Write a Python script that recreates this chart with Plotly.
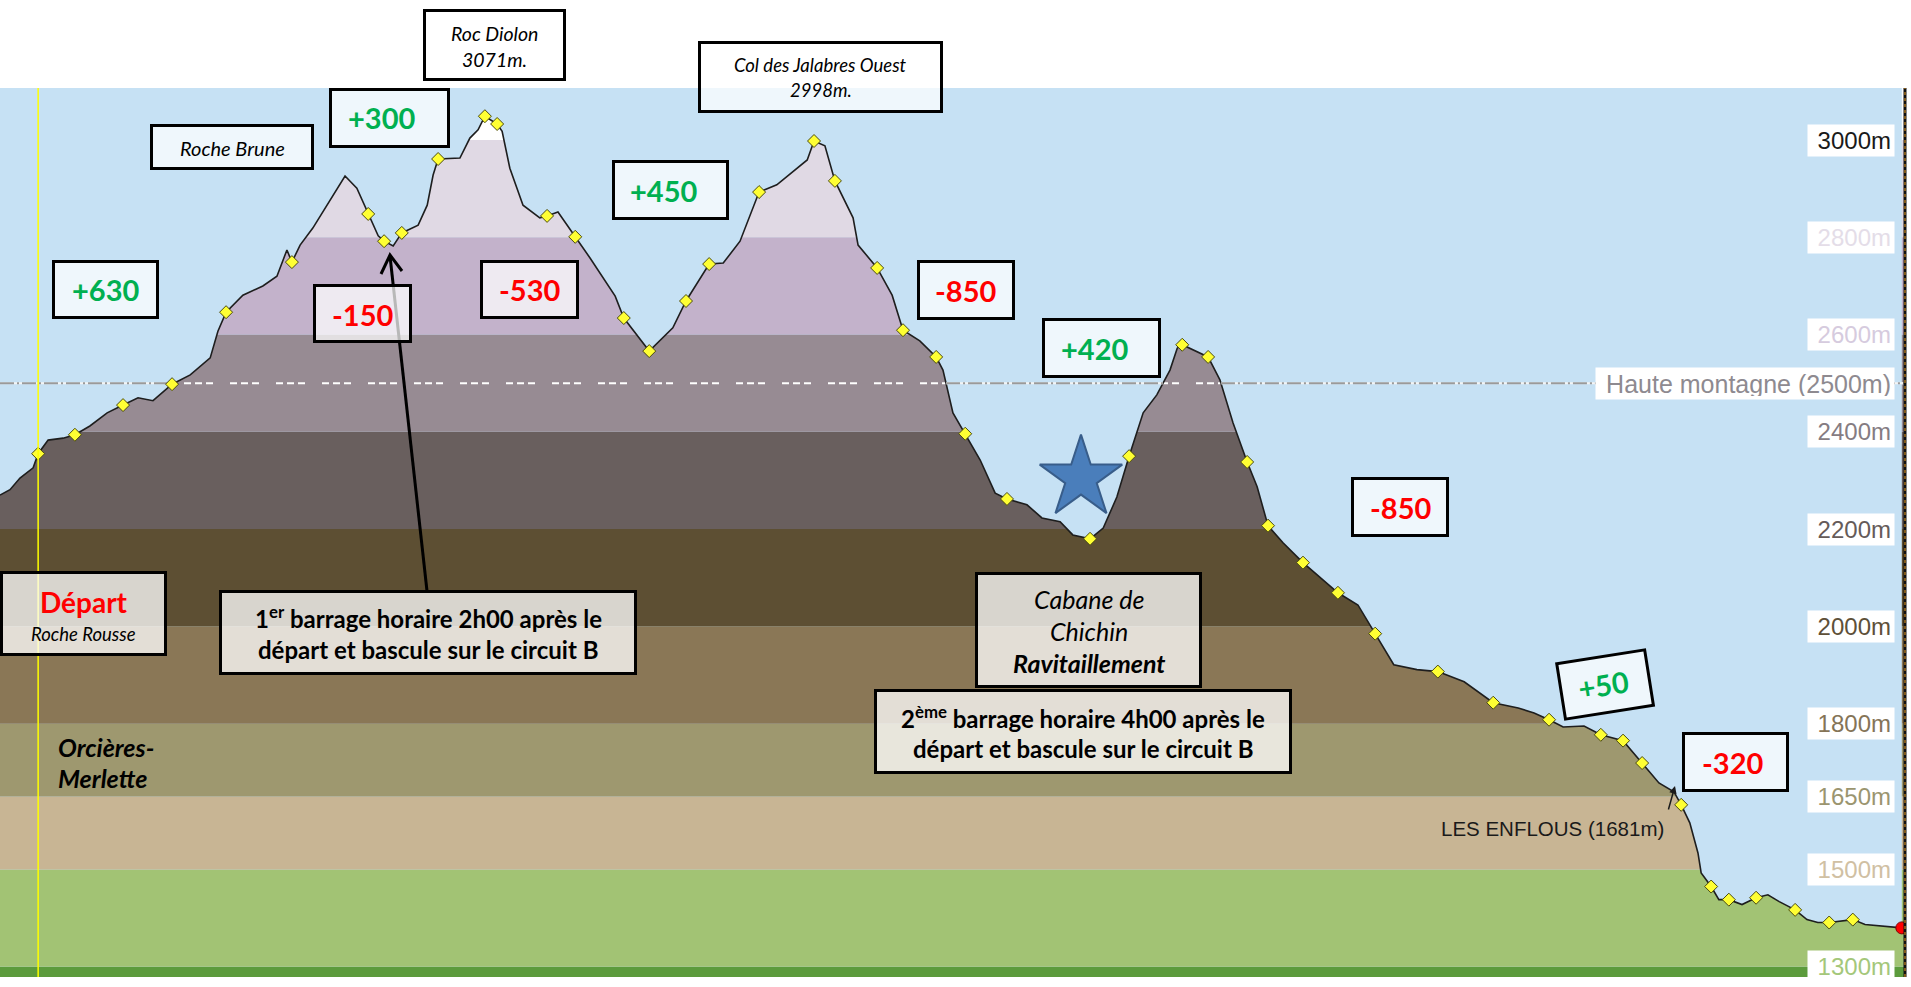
import plotly.graph_objects as go

# ---------------- data ----------------
dist_km = [0.00, 0.22, 0.44, 0.73, 0.84, 1.06, 1.39, 1.65, 1.98, 2.36, 2.71, 3.04, 3.37, 3.79,
           4.19, 4.63, 4.80, 4.98, 5.35, 5.79, 6.10, 6.32, 6.43, 6.61, 6.89, 7.27, 7.60, 7.86,
           8.11, 8.33, 8.46, 8.66, 8.85, 9.21, 9.41, 9.54, 9.65, 10.13, 10.35, 10.53, 10.68,
           10.95, 11.06, 11.23, 11.52, 11.89, 12.05, 12.29, 12.67, 13.00, 13.55, 13.74, 14.30,
           14.82, 15.11, 15.62, 15.93, 16.30, 16.72, 17.11, 17.78, 17.93, 18.17, 18.39, 18.79,
           18.90, 19.32, 19.65, 19.89, 20.26, 20.62, 20.77, 20.99, 21.26, 21.59, 21.92, 22.18,
           22.62, 22.95, 23.35, 23.63, 24.01, 24.30, 24.60, 24.87, 25.18, 25.48, 25.77, 25.93,
           26.04, 26.28, 26.61, 26.87, 27.16, 27.47, 27.69, 27.93, 28.26, 28.70, 29.07, 29.47,
           29.91, 30.29, 30.70, 31.21, 31.67, 32.25, 32.89, 33.44, 33.79, 34.12, 34.43, 34.89,
           35.26, 35.75, 36.17, 36.54, 36.87, 37.03, 37.22, 37.40, 37.47, 37.69, 37.86, 38.08,
           38.37, 38.68, 38.94, 39.19, 39.54, 39.80, 40.04, 40.29, 40.81, 41.08, 41.89]
elev_m = [2270, 2281, 2305, 2326, 2355, 2383, 2387, 2394, 2412, 2439, 2455, 2470, 2464, 2498,
          2517, 2552, 2607, 2646, 2681, 2700, 2720, 2774, 2749, 2784, 2819, 2875, 2926, 2901,
          2848, 2803, 2792, 2782, 2809, 2825, 2866, 2928, 2961, 2963, 3004, 3021, 3049,
          3033, 3018, 2942, 2866, 2840, 2844, 2852, 2801, 2757, 2679, 2634, 2566,
          2614, 2669, 2745, 2747, 2792, 2893, 2908, 2959, 2998, 2988, 2916, 2840,
          2784, 2737, 2681, 2609, 2587, 2554, 2527, 2439, 2396, 2342, 2274, 2262,
          2250, 2223, 2215, 2188, 2180, 2202, 2266, 2350, 2439, 2476, 2527, 2572,
          2579, 2568, 2554, 2507, 2418, 2338, 2287, 2207, 2172, 2131, 2102, 2069,
          2044, 1985, 1921, 1911, 1907, 1886, 1843, 1832, 1822, 1808, 1793, 1795,
          1777, 1765, 1719, 1678, 1660, 1633, 1596, 1534, 1493, 1465, 1438, 1438,
          1428, 1442, 1448, 1434, 1417, 1397, 1391, 1391, 1397, 1387, 1380]

wp_km = [0.84, 1.65, 2.71, 3.79, 4.98, 6.43, 8.11, 8.46, 8.85, 9.65, 10.68, 10.95, 12.05, 12.67,
         13.74, 14.30, 15.11, 15.62, 16.72, 17.93, 18.39, 19.32, 19.89, 20.62, 21.26, 22.18,
         24.01, 24.87, 26.04, 26.61, 27.47, 27.93, 28.70, 29.47, 30.29, 31.67, 32.89, 34.12,
         35.26, 35.75, 36.17, 37.03, 37.69, 38.08, 38.68, 39.54, 40.29, 40.81]
wp_m = [2355, 2394, 2455, 2498, 2646, 2749, 2848, 2792, 2809, 2961, 3049, 3033, 2844, 2801,
        2634, 2566, 2669, 2745, 2893, 2998, 2916, 2737, 2609, 2554, 2396, 2262,
        2180, 2350, 2579, 2554, 2338, 2207, 2131, 2069, 1985, 1907, 1843, 1808,
        1777, 1765, 1719, 1633, 1465, 1438, 1442, 1417, 1391, 1397]

end_km = [41.89]
end_m = [1380]
star_km = [23.81]
star_m = [2305]
start_km = 0.84

band_edges = [1279, 1300, 1500, 1650, 1800, 2000, 2200, 2400, 2600, 2800, 3000, 3107]
band_colors = ["#5c9b3c", "#a2c374", "#c8b594", "#9e986f", "#8a7756", "#5d4f33",
               "#695f5e", "#978b93", "#c3b2cb", "#e0d9e4", "#ffffff"]

tick_vals = [3000, 2800, 2600, 2400, 2200, 2000, 1800, 1650, 1500, 1300]
tick_text = ["3000m", "2800m", "2600m", "2400m", "2200m", "2000m", "1800m", "1650m", "1500m", "1300m"]
tick_colors = ["#1a1a1a", "#e4dde8", "#d6cbde", "#857c82", "#655b59", "#5e5038",
               "#857457", "#9b956f", "#d0c0a3", "#a4c77a"]

haute_level = 2500
haute_label = "Haute montagne (2500m)"

X_MAX = 41.96
Y_MIN, Y_MAX = band_edges[0], band_edges[-1]

SKY = "#c6e1f4"

# ---------------- layout helpers (pixel -> paper) ----------------
W, H = 1911, 987
PW, PT, PB = 1905, 88, 977
PH = PB - PT


def px(x):
    return x / PW


def py(y):
    return (PB - y) / PH


fig = go.Figure()

# sky fill above the profile
fig.add_trace(go.Scatter(x=dist_km, y=[Y_MAX] * len(dist_km), mode="lines",
                         line=dict(width=0, color=SKY), hoverinfo="skip", showlegend=False))
fig.add_trace(go.Scatter(x=dist_km, y=elev_m, mode="lines", fill="tonexty", fillcolor=SKY,
                         line=dict(color="#1e1e1e", width=1.6), hoverinfo="skip", showlegend=False))

# "Haute montagne" line over the sky (where the profile is below 2500 m)
gx, gy = [], []
start = dist_km[0] if elev_m[0] < haute_level else None
for i in range(len(dist_km) - 1):
    y0, y1 = elev_m[i], elev_m[i + 1]
    if (y0 < haute_level) != (y1 < haute_level):
        xc = dist_km[i] + (haute_level - y0) / (y1 - y0) * (dist_km[i + 1] - dist_km[i])
        if y0 < haute_level:
            gx += [start, xc, None]
            gy += [haute_level, haute_level, None]
        else:
            start = xc
if elev_m[-1] < haute_level:
    gx += [start, X_MAX]
    gy += [haute_level, haute_level]

fig.add_trace(go.Scatter(x=gx, y=gy, mode="lines", line=dict(color="#f4f4f4", width=2),
                         hoverinfo="skip", showlegend=False))
fig.add_trace(go.Scatter(x=gx, y=gy, mode="lines",
                         line=dict(color="#9a9a9a", width=2, dash="14px,3px,2px,3px"),
                         hoverinfo="skip", showlegend=False))

# waypoints
fig.add_trace(go.Scatter(x=wp_km, y=wp_m, mode="markers",
                         marker=dict(symbol="diamond", size=10, color="#ffff33",
                                     line=dict(color="#4a4a10", width=1)),
                         hoverinfo="skip", showlegend=False))
fig.add_trace(go.Scatter(x=end_km, y=end_m, mode="markers",
                         marker=dict(symbol="circle", size=12, color="#ff0000",
                                     line=dict(color="#800000", width=1)),
                         hoverinfo="skip", showlegend=False))
fig.add_trace(go.Scatter(x=star_km, y=star_m, mode="markers",
                         marker=dict(symbol="star", size=62, color="#4a7ebb",
                                     line=dict(color="#385d8a", width=2)),
                         hoverinfo="skip", showlegend=False))

shapes = []
for lo, hi, c in zip(band_edges[:-1], band_edges[1:], band_colors):
    shapes.append(dict(type="rect", xref="paper", yref="y", x0=0, x1=1, y0=lo, y1=hi,
                       fillcolor=c, line=dict(width=0), layer="below"))
# white dashed 2500 line over the ground (sky fill hides it elsewhere)
shapes.append(dict(type="line", xref="paper", yref="y", x0=0, x1=1, y0=haute_level, y1=haute_level,
                   line=dict(color="#ffffff", width=2, dash="7px,4px,7px,4px,7px,17px"), layer="below"))
# start line
shapes.append(dict(type="line", xref="x", yref="paper", x0=start_km, x1=start_km, y0=0, y1=1,
                   line=dict(color="#ffff00", width=1.5), layer="above"))
# right edge
shapes.append(dict(type="line", xref="paper", yref="paper", x0=1, x1=1, y0=0, y1=1,
                   line=dict(color="#111111", width=3), layer="above"))
shapes.append(dict(type="line", xref="paper", yref="paper", x0=1, x1=1, y0=0, y1=1,
                   line=dict(color="#f0a020", width=1, dash="3px,3px"), layer="above"))
# arrow to the first time barrier point
shapes.append(dict(type="line", xref="paper", yref="paper", x0=px(427), y0=py(591), x1=px(390), y1=py(256),
                   line=dict(color="#000000", width=3), layer="above"))
shapes.append(dict(type="path", xref="paper", yref="paper",
                   path=f"M {px(381)},{py(274)} L {px(390)},{py(255)} L {px(402)},{py(271)}",
                   line=dict(color="#000000", width=3), layer="above"))

anns = []


def box(cx, cy, w, h, alpha=0.72, angle=0, bw=3):
    anns.append(dict(xref="paper", yref="paper", x=px(cx), y=py(cy), xanchor="center", yanchor="middle",
                     text=" ", showarrow=False, width=w - 2 * bw, height=h - 2 * bw,
                     bgcolor=f"rgba(255,255,255,{alpha})", bordercolor="#000000",
                     borderwidth=bw, borderpad=0, textangle=angle))


def txt(cx, cy, s, size, color="#000000", family="Lato", xanchor="center", angle=0):
    anns.append(dict(xref="paper", yref="paper", x=px(cx), y=py(cy), xanchor=xanchor, yanchor="middle",
                     text=s, showarrow=False, textangle=angle,
                     font=dict(family=family, size=size, color=color)))


GREEN, RED = "#00b050", "#ff0000"

# place-name boxes
box(494.5, 45, 143, 72, alpha=1.0)
txt(494.5, 33, "<i>Roc Diolon</i>", 19.5)
txt(494.5, 59, "<i>3071m.</i>", 19.5)
box(820.5, 77, 245, 72)
txt(820.5, 65, "<i>Col des Jalabres Ouest</i>", 18.5)
txt(820.5, 90, "<i>2998m.</i>", 18.5)
box(232, 147, 164, 46)
txt(232, 148, "<i>Roche Brune</i>", 20)

# elevation change boxes
deltas = [(105.5, 289.5, 107, 59, 105, "+630", GREEN),
          (389.5, 118, 121, 60, 381, "+300", GREEN),
          (529.5, 289.5, 99, 59, 529, "-530", RED),
          (670.5, 190, 117, 60, 663, "+450", GREEN),
          (966, 290, 98, 60, 966, "-850", RED),
          (1101.5, 348, 119, 60, 1094, "+420", GREEN),
          (1400, 507, 98, 60, 1400, "-850", RED),
          (1735.5, 762, 107, 60, 1732, "-320", RED)]
for cx, cy, w, h, tx, s, c in deltas:
    box(cx, cy, w, h)
    txt(tx, cy, f"<b>{s}</b>", 29, c)
box(362.5, 313.5, 99, 59)
txt(362.5, 314, "<b>-150</b>", 29, RED)
box(1605, 684, 92, 59, angle=-9)
txt(1603, 684, "<b>+50</b>", 29, GREEN, angle=-9)

# information boxes
box(83.5, 613.5, 167, 85, alpha=0.76)
txt(83.5, 602, "<b>Départ</b>", 28, RED)
txt(83.5, 634, "<i>Roche Rousse</i>", 18.5)
box(428, 632.5, 418, 85, alpha=0.76)
txt(428, 617, "<b>1<sup>er</sup> barrage horaire 2h00 après le</b>", 24)
txt(428, 649, "<b>départ et bascule sur le circuit B</b>", 24)
box(1088.5, 630, 227, 116, alpha=0.76)
txt(1088.5, 599, "<i>Cabane de</i>", 25)
txt(1088.5, 631, "<i>Chichin</i>", 25)
txt(1088.5, 663, "<b><i>Ravitaillement</i></b>", 25)
box(1083, 731.5, 418, 85, alpha=0.76)
txt(1083, 717, "<b>2<sup>ème</sup> barrage horaire 4h00 après le</b>", 24)
txt(1083, 748, "<b>départ et bascule sur le circuit B</b>", 24)

txt(56, 747, "<b><i>Orcières-</i></b>", 25, xanchor="left")
txt(56, 778, "<b><i>Merlette</i></b>", 25, xanchor="left")
txt(1666, 828, "LES ENFLOUS (1681m)", 20.5, "#1a1a1a", family="Liberation Sans", xanchor="right")
anns.append(dict(xref="paper", yref="paper", x=px(1675), y=py(786), ax=-7, ay=25, text="",
                 showarrow=True, arrowhead=2, arrowsize=1, arrowwidth=1.5, arrowcolor="#1a1a1a"))

# right-hand elevation labels
for v, t, c in zip(tick_vals, tick_text, tick_colors):
    anns.append(dict(xref="paper", yref="y", x=px(1895), y=v, xanchor="right", yanchor="middle",
                     text=t, showarrow=False, align="right", width=80, height=25, borderpad=3,
                     bgcolor="#ffffff", font=dict(family="Liberation Sans", size=24, color=c)))
anns.append(dict(xref="paper", yref="y", x=px(1895), y=haute_level, xanchor="right", yanchor="middle",
                 text=haute_label, showarrow=False, align="right", width=292, height=25, borderpad=3,
                 bgcolor="#ffffff", font=dict(family="Liberation Sans", size=25, color="#8e8a90")))

fig.update_layout(
    width=W, height=H, autosize=False,
    margin=dict(l=0, r=W - PW, t=PT, b=H - PB),
    paper_bgcolor="#ffffff", plot_bgcolor=SKY,
    xaxis=dict(range=[0, X_MAX], visible=False, showgrid=False, zeroline=False, fixedrange=True),
    yaxis=dict(range=[Y_MIN, Y_MAX], visible=False, showgrid=False, zeroline=False, fixedrange=True),
    shapes=shapes, annotations=anns, showlegend=False,
)

fig.write_html("out.html", config={"displayModeBar": False},
               post_script="document.body.style.margin='0px';document.body.style.overflow='hidden';")
